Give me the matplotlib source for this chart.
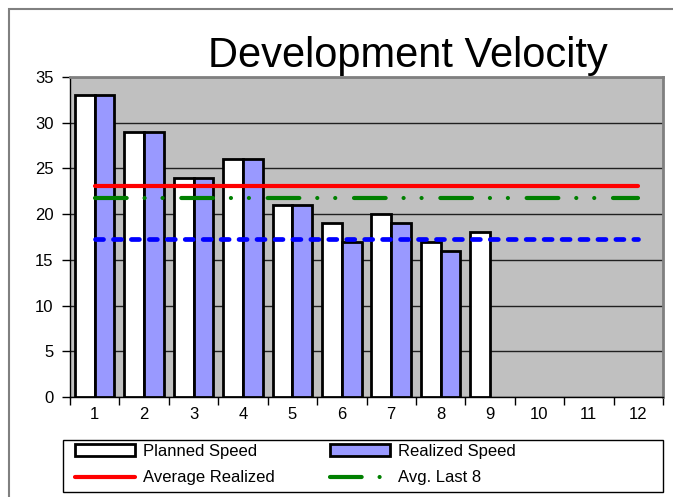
import numpy as np
import matplotlib.pyplot as plt
from matplotlib.patches import Rectangle

plt.rcParams['font.family'] = ['Liberation Sans', 'DejaVu Sans']

iterations = list(range(1, 13))
planned = [33, 29, 24, 26, 21, 19, 20, 17, 18]
realized = [33, 29, 24, 26, 21, 17, 19, 16]
avg_realized = 23.125
avg_last8 = 21.75
avg_last3 = 17.33

fig = plt.figure(figsize=(6.73, 4.97), dpi=100)
ax = fig.add_axes([70 / 673, 1 - 397 / 497, 593 / 673, 320 / 497])

# outer chart border
fig.patches.append(Rectangle((9 / 673, -0.1), 1.2, 1 - 9 / 497 + 0.1,
                             transform=fig.transFigure, fill=False,
                             edgecolor='#808080', lw=1.5))

ax.set_facecolor('#c0c0c0')
for s in ax.spines.values():
    s.set_color('#808080')
    s.set_linewidth(2)
ax.spines['left'].set_color('black')
ax.spines['left'].set_linewidth(1)
ax.spines['bottom'].set_color('black')
ax.spines['bottom'].set_linewidth(1)

x_p = np.arange(1, len(planned) + 1)
x_r = np.arange(1, len(realized) + 1)
b1 = ax.bar(x_p - 0.2, planned, width=0.4, color='white', edgecolor='black',
            lw=2, zorder=3)
b2 = ax.bar(x_r + 0.2, realized, width=0.4, color='#9999ff', edgecolor='black',
            lw=2, zorder=3)

xs = [iterations[0], iterations[-1]]
l1, = ax.plot(xs, [avg_realized] * 2, color='#ff0000', lw=3,
              solid_capstyle='round', zorder=4)
l2, = ax.plot(xs, [avg_last8] * 2, color='#008000', lw=3, dash_capstyle='round',
              dashes=(7.6, 4.3, 0.01, 4.3, 0.01, 4.5), zorder=4)
ax.plot(xs, [avg_last3] * 2, color='#0000ff', lw=3.4, dash_capstyle='round',
        dashes=(1.7, 2.1), zorder=4)

ax.set_xlim(0.5, 12.5)
ax.set_ylim(0, 35)
ax.set_yticks(range(0, 36, 5))
ax.yaxis.grid(True, color='#202020', lw=1)
ax.set_axisbelow(True)

ax.set_xticks(np.arange(0.5, 13, 1))
ax.set_xticklabels([])
ax.set_xticks(iterations, minor=True)
ax.set_xticklabels([str(i) for i in iterations], minor=True)
ax.tick_params(axis='x', which='major', length=6, width=1, direction='out')
ax.tick_params(axis='x', which='minor', length=0, labelsize=12, pad=7)
ax.tick_params(axis='y', length=6, width=1, labelsize=12, pad=6)

fig.text(0.606, 1 - 56 / 497, 'Development Velocity', fontsize=30,
         ha='center', va='center')

# legend box drawn separately so it spans the full width like the original
fig.patches.append(Rectangle((63 / 673, 1 - 492 / 497), 600 / 673, 52 / 497,
                             transform=fig.transFigure, fill=False,
                             edgecolor='black', lw=1))
leg = fig.legend([b1, l1, b2, l2],
                 ['Planned Speed', 'Average Realized',
                  'Realized Speed', 'Avg. Last 8'],
                 loc='upper left', ncol=2,
                 bbox_to_anchor=(75 / 673, 1 - 444 / 497),
                 fontsize=12, frameon=False,
                 handlelength=3.6, handletextpad=0.5, borderpad=0,
                 labelspacing=0.68, columnspacing=3.3, borderaxespad=0)

fig.savefig('out.png', dpi=100)
